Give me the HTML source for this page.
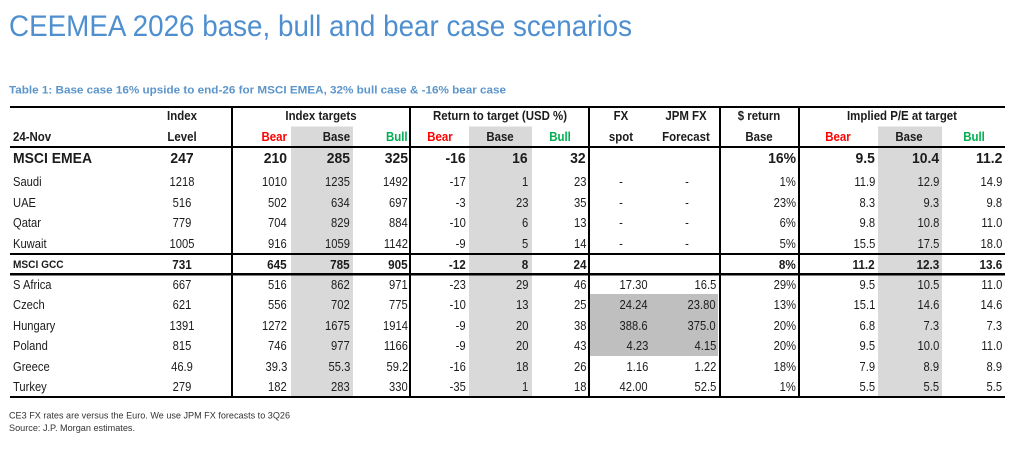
<!DOCTYPE html>
<html><head><meta charset="utf-8">
<style>
html,body{margin:0;padding:0;background:#fff;}
body{width:1024px;height:451px;position:relative;overflow:hidden;font-family:"Liberation Sans",Arial,sans-serif;color:#1c1c1c;}
svg{position:absolute;left:0;top:0;}
.row{position:absolute;left:0;width:1024px;height:16px;font-size:13px;line-height:16px;}
.row div{position:absolute;top:0;white-space:nowrap;}
.r{transform-origin:100% 50%;transform:scaleX(.86);text-align:right;}
.c{width:200px;text-align:center;transform:scaleX(.86);}
.l{transform-origin:0 50%;transform:scaleX(.86);}
.h{font-weight:bold;}
.h .r,.h .c,.h .l{transform:scaleX(.88);}
.big{font-size:15px;line-height:20px;height:20px;font-weight:bold;}
.big .r,.big .c,.big .l{transform:scaleX(.93);}
.gcc{font-weight:bold;}
.gcc .r,.gcc .c{transform:scaleX(.9);}
.gcc .l{font-size:11px;transform:scaleX(.92);}
.red{color:#ff0000;}
.grn{color:#00b050;}
.nm{left:13px;}
.lv{left:82px;}
.a1{right:737px}.a2{right:674px}.a3{right:616px}
.b1{right:558px}.b2{right:496px}.b3{right:438px}
.f1{right:376px}.f2{right:308px}
.d{right:228px}
.p1{right:149px}.p2{right:85px}.p3{right:22px}
.fd1{left:521px}.fd2{left:587px}
</style></head><body>
<svg width="1024" height="451" xmlns="http://www.w3.org/2000/svg">
  <text x="9" y="36" font-family="Liberation Sans, Arial, sans-serif" font-size="29.3" fill="#4f8fcf" textLength="623" lengthAdjust="spacingAndGlyphs">CEEMEA 2026 base, bull and bear case scenarios</text>
  <text x="9" y="93.3" font-family="Liberation Sans, Arial, sans-serif" font-size="11" font-weight="bold" fill="#5b95cb" textLength="497" lengthAdjust="spacingAndGlyphs">Table 1: Base case 16% upside to end-26 for MSCI EMEA, 32% bull case &amp; -16% bear case</text>
  <!-- shading -->
  <rect x="291" y="126.5" width="62" height="270" fill="#d9d9d9"/>
  <rect x="469" y="126.5" width="63" height="270" fill="#d9d9d9"/>
  <rect x="878" y="126.5" width="64" height="270" fill="#d9d9d9"/>
  <rect x="590" y="294" width="128" height="62" fill="#bfbfbf"/>
  <!-- horizontal lines -->
  <rect x="10" y="106" width="995" height="2" fill="#000"/>
  <rect x="10" y="146" width="995" height="2" fill="#000"/>
  <rect x="10" y="253" width="995" height="2" fill="#000"/>
  <rect x="10" y="273" width="995" height="2.5" fill="#000"/>
  <rect x="10" y="396" width="995" height="2" fill="#000"/>
  <!-- vertical lines -->
  <rect x="231" y="106" width="2" height="292" fill="#000"/>
  <rect x="409" y="106" width="2" height="292" fill="#000"/>
  <rect x="588" y="106" width="2" height="292" fill="#000"/>
  <rect x="719" y="106" width="2" height="292" fill="#000"/>
  <rect x="798" y="106" width="2" height="292" fill="#000"/>
  <!-- footnotes -->
  <text x="9" y="418.5" font-family="Liberation Sans, Arial, sans-serif" font-size="9.3" fill="#333" textLength="281" lengthAdjust="spacingAndGlyphs">CE3 FX rates are versus the Euro. We use JPM FX forecasts to 3Q26</text>
  <text x="9" y="431" font-family="Liberation Sans, Arial, sans-serif" font-size="9.3" fill="#333" textLength="126" lengthAdjust="spacingAndGlyphs">Source: J.P. Morgan estimates.</text>
</svg>

<!-- header row 1 -->
<div class="row h" style="top:108px">
  <div class="c lv">Index</div>
  <div class="c" style="left:221px">Index targets</div>
  <div class="c" style="left:400px">Return to target (USD %)</div>
  <div class="c" style="left:521px">FX</div>
  <div class="c" style="left:585.5px">JPM FX</div>
  <div class="c" style="left:659px">$ return</div>
  <div class="c" style="left:802px">Implied P/E at target</div>
</div>
<!-- header row 2 -->
<div class="row h" style="top:129px">
  <div class="l nm">24-Nov</div>
  <div class="c lv">Level</div>
  <div class="r a1 red">Bear</div>
  <div class="r a2">Base</div>
  <div class="r a3 grn">Bull</div>
  <div class="c red" style="left:339.5px">Bear</div>
  <div class="c" style="left:400px">Base</div>
  <div class="c grn" style="left:460px">Bull</div>
  <div class="c" style="left:521px">spot</div>
  <div class="c" style="left:586px">Forecast</div>
  <div class="c" style="left:659px">Base</div>
  <div class="c red" style="left:738px">Bear</div>
  <div class="c" style="left:809px">Base</div>
  <div class="c grn" style="left:873.5px">Bull</div>
</div>

<!-- MSCI EMEA -->
<div class="row big" style="top:149px">
  <div class="l nm">MSCI EMEA</div>
  <div class="c lv">247</div>
  <div class="r a1">210</div><div class="r a2">285</div><div class="r a3">325</div>
  <div class="r b1">-16</div><div class="r b2">16</div><div class="r b3">32</div>
  <div class="r d">16%</div>
  <div class="r p1">9.5</div><div class="r p2">10.4</div><div class="r p3">11.2</div>
</div>

<div class="row" style="top:174.3px">
  <div class="l nm">Saudi</div><div class="c lv">1218</div>
  <div class="r a1">1010</div><div class="r a2">1235</div><div class="r a3">1492</div>
  <div class="r b1">-17</div><div class="r b2">1</div><div class="r b3">23</div>
  <div class="c fd1">-</div><div class="c fd2">-</div>
  <div class="r d">1%</div>
  <div class="r p1">11.9</div><div class="r p2">12.9</div><div class="r p3">14.9</div>
</div>
<div class="row" style="top:194.8px">
  <div class="l nm">UAE</div><div class="c lv">516</div>
  <div class="r a1">502</div><div class="r a2">634</div><div class="r a3">697</div>
  <div class="r b1">-3</div><div class="r b2">23</div><div class="r b3">35</div>
  <div class="c fd1">-</div><div class="c fd2">-</div>
  <div class="r d">23%</div>
  <div class="r p1">8.3</div><div class="r p2">9.3</div><div class="r p3">9.8</div>
</div>
<div class="row" style="top:215.3px">
  <div class="l nm">Qatar</div><div class="c lv">779</div>
  <div class="r a1">704</div><div class="r a2">829</div><div class="r a3">884</div>
  <div class="r b1">-10</div><div class="r b2">6</div><div class="r b3">13</div>
  <div class="c fd1">-</div><div class="c fd2">-</div>
  <div class="r d">6%</div>
  <div class="r p1">9.8</div><div class="r p2">10.8</div><div class="r p3">11.0</div>
</div>
<div class="row" style="top:235.8px">
  <div class="l nm">Kuwait</div><div class="c lv">1005</div>
  <div class="r a1">916</div><div class="r a2">1059</div><div class="r a3">1142</div>
  <div class="r b1">-9</div><div class="r b2">5</div><div class="r b3">14</div>
  <div class="c fd1">-</div><div class="c fd2">-</div>
  <div class="r d">5%</div>
  <div class="r p1">15.5</div><div class="r p2">17.5</div><div class="r p3">18.0</div>
</div>

<div class="row gcc" style="top:256.7px">
  <div class="l nm">MSCI GCC</div><div class="c lv">731</div>
  <div class="r a1">645</div><div class="r a2">785</div><div class="r a3">905</div>
  <div class="r b1">-12</div><div class="r b2">8</div><div class="r b3">24</div>
  <div class="r d">8%</div>
  <div class="r p1">11.2</div><div class="r p2">12.3</div><div class="r p3">13.6</div>
</div>

<div class="row" style="top:277px">
  <div class="l nm">S Africa</div><div class="c lv">667</div>
  <div class="r a1">516</div><div class="r a2">862</div><div class="r a3">971</div>
  <div class="r b1">-23</div><div class="r b2">29</div><div class="r b3">46</div>
  <div class="r f1">17.30</div><div class="r f2">16.5</div>
  <div class="r d">29%</div>
  <div class="r p1">9.5</div><div class="r p2">10.5</div><div class="r p3">11.0</div>
</div>
<div class="row" style="top:297.4px">
  <div class="l nm">Czech</div><div class="c lv">621</div>
  <div class="r a1">556</div><div class="r a2">702</div><div class="r a3">775</div>
  <div class="r b1">-10</div><div class="r b2">13</div><div class="r b3">25</div>
  <div class="r f1">24.24</div><div class="r f2">23.80</div>
  <div class="r d">13%</div>
  <div class="r p1">15.1</div><div class="r p2">14.6</div><div class="r p3">14.6</div>
</div>
<div class="row" style="top:317.8px">
  <div class="l nm">Hungary</div><div class="c lv">1391</div>
  <div class="r a1">1272</div><div class="r a2">1675</div><div class="r a3">1914</div>
  <div class="r b1">-9</div><div class="r b2">20</div><div class="r b3">38</div>
  <div class="r f1">388.6</div><div class="r f2">375.0</div>
  <div class="r d">20%</div>
  <div class="r p1">6.8</div><div class="r p2">7.3</div><div class="r p3">7.3</div>
</div>
<div class="row" style="top:338.2px">
  <div class="l nm">Poland</div><div class="c lv">815</div>
  <div class="r a1">746</div><div class="r a2">977</div><div class="r a3">1166</div>
  <div class="r b1">-9</div><div class="r b2">20</div><div class="r b3">43</div>
  <div class="r f1">4.23</div><div class="r f2">4.15</div>
  <div class="r d">20%</div>
  <div class="r p1">9.5</div><div class="r p2">10.0</div><div class="r p3">11.0</div>
</div>
<div class="row" style="top:358.6px">
  <div class="l nm">Greece</div><div class="c lv">46.9</div>
  <div class="r a1">39.3</div><div class="r a2">55.3</div><div class="r a3">59.2</div>
  <div class="r b1">-16</div><div class="r b2">18</div><div class="r b3">26</div>
  <div class="r f1">1.16</div><div class="r f2">1.22</div>
  <div class="r d">18%</div>
  <div class="r p1">7.9</div><div class="r p2">8.9</div><div class="r p3">8.9</div>
</div>
<div class="row" style="top:379px">
  <div class="l nm">Turkey</div><div class="c lv">279</div>
  <div class="r a1">182</div><div class="r a2">283</div><div class="r a3">330</div>
  <div class="r b1">-35</div><div class="r b2">1</div><div class="r b3">18</div>
  <div class="r f1">42.00</div><div class="r f2">52.5</div>
  <div class="r d">1%</div>
  <div class="r p1">5.5</div><div class="r p2">5.5</div><div class="r p3">5.5</div>
</div>
</body></html>
